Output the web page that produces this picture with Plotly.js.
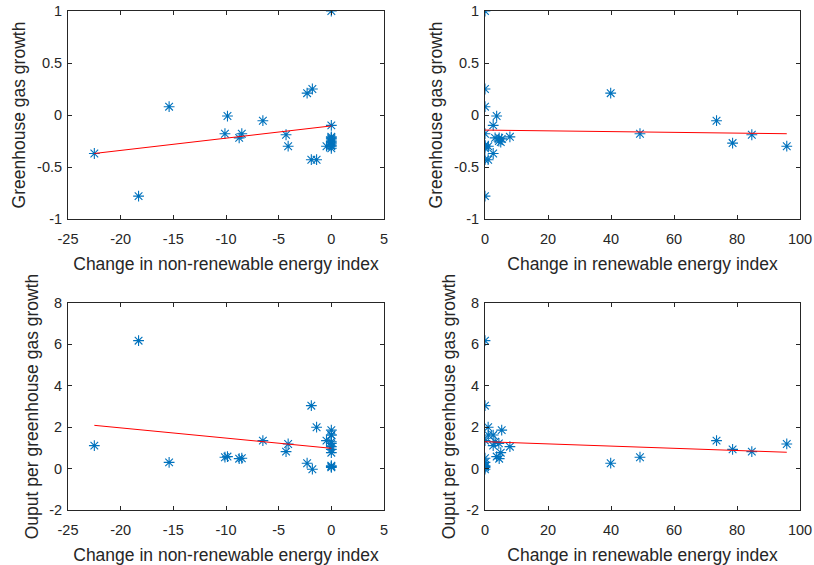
<!DOCTYPE html>
<html><head><meta charset="utf-8">
<script src="https://cdn.plot.ly/plotly-3.0.1.min.js"></script>
<style>html,body{margin:0;padding:0;background:#fff}#chart{width:814px;height:565px}</style>
</head><body><div id="chart"></div>
<script>
const nonRenewable = [-22.5, -18.3, -15.4, -10.1, -9.86, -8.5, -8.75, -6.5, -4.3, -4.1, -2.3, -1.8, -1.9, -1.4, 0, 0, 0, 0, 0, 0, 0, -0.46, 0, 0, 0, 0];
const renewable    = [2.6, 0, 0, 49.2, 3.7, 0, 4.5, 73.5, 84.7, 95.8, 39.9, 0, 0, 1.0, 0, 2.6, 78.6, 7.9, 5.3, 4.4, 5.0, 0, 1.05, 0, 3.2, 0];
const ghgGrowth    = [-0.37, -0.78, 0.08, -0.18, -0.01, -0.18, -0.22, -0.055, -0.19, -0.30, 0.21, 0.25, -0.43, -0.43, 1.0, -0.10, -0.27, -0.21, -0.23, -0.25, -0.26, -0.30, -0.30, -0.29, -0.22, -0.32];
const outputPerGhg = [1.11, 6.18, 0.30, 0.55, 0.58, 0.50, 0.48, 1.35, 0.82, 1.19, 0.26, -0.03, 3.04, 2.0, 0.06, 1.62, 0.93, 1.06, 1.86, 1.22, 0.77, 1.35, 1.62, 0.14, 1.30, 0.10];

// Fitted lines (end points)
const fitNonRenX = [-22.5, 0];
const fitGhgNonRenY = [-0.37, -0.105];
const fitOutNonRenY = [2.09, 0.98];
const fitRenX = [0, 95.8];
const fitGhgRenY = [-0.145, -0.18];
const fitOutRenY = [1.30, 0.79];

const xTicksNon = [-25, -20, -15, -10, -5, 0, 5];
const xTicksRen = [0, 20, 40, 60, 80, 100];
const yTicksGhg = [-1, -0.5, 0, 0.5, 1];
const yTicksOut = [-2, 0, 2, 4, 6, 8];

const titleNon = 'Change in non-renewable energy index';
const titleRen = 'Change in renewable energy index';
const titleGhg = 'Greenhouse gas growth';
const titleOut = 'Ouput per greenhouse gas growth';

const blue = '#0072BD';
const txt = '#262626';
const FONT = 'Liberation Sans, Arial, sans-serif';
function pts(x, y, ax) {
  return {x: x, y: y, xaxis: 'x' + ax, yaxis: 'y' + ax, type: 'scatter', mode: 'markers',
    marker: {symbol: 'asterisk-open', size: 9, color: blue, line: {color: blue, width: 1.1}},
    hoverinfo: 'skip', showlegend: false};
}
function fit(x, y, ax) {
  return {x: x, y: y, xaxis: 'x' + ax, yaxis: 'y' + ax, type: 'scatter', mode: 'lines',
    line: {color: '#ff0000', width: 1}, showlegend: false, hoverinfo: 'skip'};
}
const data = [
  pts(nonRenewable, ghgGrowth, ''), fit(fitNonRenX, fitGhgNonRenY, ''),
  pts(renewable, ghgGrowth, '2'), fit(fitRenX, fitGhgRenY, '2'),
  pts(nonRenewable, outputPerGhg, '3'), fit(fitNonRenX, fitOutNonRenY, '3'),
  pts(renewable, outputPerGhg, '4'), fit(fitRenX, fitOutRenY, '4')
];
const W = 814, H = 565;
const dxL = [68 / W, 384 / W], dxR = [485 / W, 800 / W];
const dyT = [1 - 219 / H, 1 - 11 / H], dyB = [1 - 510 / H, 1 - 303 / H];
function ax(dom, range, ticks, title, anchor, isX) {
  return {domain: dom, range: range, tickvals: ticks, ticktext: ticks.map(String), anchor: anchor,
    showgrid: false, zeroline: false,
    showline: true, linecolor: txt, linewidth: 1, mirror: 'ticks', ticks: 'inside', ticklen: 4, tickcolor: txt,
    ticklabelstandoff: isX ? 7 : 2,
    tickfont: {family: FONT, size: 14.5, color: txt},
    title: {text: title, font: {family: FONT, size: 17.5, color: txt}, standoff: isX ? 11 : 6}};
}
const layout = {
  width: W, height: H, margin: {l: 0, r: 0, t: 0, b: 0}, paper_bgcolor: '#fff', plot_bgcolor: '#fff',
  xaxis: ax(dxL, [-25, 5], xTicksNon, titleNon, 'y', true),
  yaxis: ax(dyT, [-1, 1], yTicksGhg, titleGhg, 'x', false),
  xaxis2: ax(dxR, [0, 100], xTicksRen, titleRen, 'y2', true),
  yaxis2: ax(dyT, [-1, 1], yTicksGhg, titleGhg, 'x2', false),
  xaxis3: ax(dxL, [-25, 5], xTicksNon, titleNon, 'y3', true),
  yaxis3: ax(dyB, [-2, 8], yTicksOut, titleOut, 'x3', false),
  xaxis4: ax(dxR, [0, 100], xTicksRen, titleRen, 'y4', true),
  yaxis4: ax(dyB, [-2, 8], yTicksOut, titleOut, 'x4', false)
};
Plotly.newPlot('chart', data, layout, {displayModeBar: false, staticPlot: true});
</script></body></html>
